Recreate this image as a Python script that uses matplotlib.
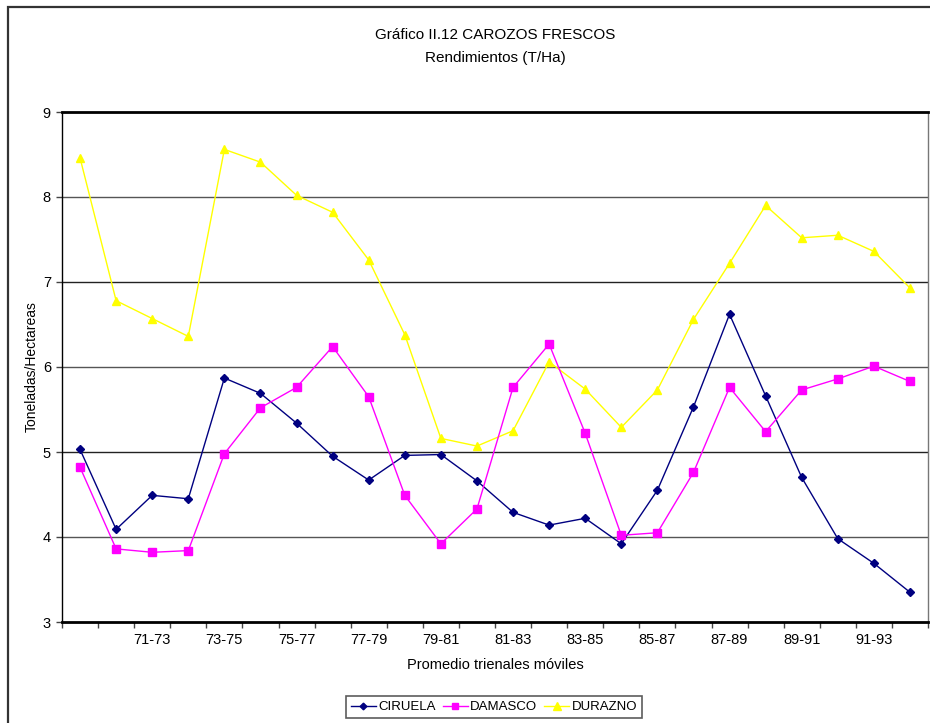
import numpy as np
import matplotlib
matplotlib.use('Agg')
import matplotlib.pyplot as plt
from matplotlib.patches import Rectangle

plt.rcParams['font.family'] = ['Liberation Sans', 'DejaVu Sans']

# categorias: promedios trienales moviles 69-71 ... 92-94
periodos = ['%02d-%02d' % (y, y + 2) for y in range(69, 93)]
ciruela = [5.03, 4.09, 4.49, 4.45, 5.87, 5.69, 5.34, 4.95, 4.67, 4.96, 4.97, 4.66,
           4.29, 4.14, 4.22, 3.92, 4.55, 5.53, 6.62, 5.66, 4.70, 3.98, 3.69, 3.35]
damasco = [4.82, 3.86, 3.82, 3.84, 4.98, 5.52, 5.76, 6.24, 5.65, 4.49, 3.92, 4.33,
           5.76, 6.27, 5.22, 4.02, 4.05, 4.76, 5.76, 5.24, 5.73, 5.86, 6.01, 5.83]
durazno = [8.46, 6.78, 6.57, 6.36, 8.56, 8.41, 8.02, 7.82, 7.26, 6.38, 5.16, 5.07,
           5.25, 6.06, 5.74, 5.29, 5.73, 6.56, 7.22, 7.90, 7.52, 7.55, 7.36, 6.93]
yticks = [3, 4, 5, 6, 7, 8, 9]

fig = plt.figure(figsize=(9.3, 7.23), dpi=100)
ax = fig.add_axes([62/930., 101/723., 866/930., 510/723.])

# marco exterior del grafico
fig.patches.append(Rectangle((8/930., -0.05), 1.1, 1.05 - 7/723., transform=fig.transFigure,
                             fill=False, edgecolor='#333333', linewidth=1.6, zorder=0))

x = np.arange(len(periodos)) + 0.5
for yv in yticks[1:-1]:
    ax.axhline(yv, color='#222222' if yv % 2 else '#555555', linewidth=1.0, zorder=1)

ax.plot(x, ciruela, color='#000080', marker='D', markersize=4, linewidth=1.0,
        label='CIRUELA', zorder=3)
ax.plot(x, damasco, color='#FF00FF', marker='s', markersize=5.5, linewidth=1.0,
        label='DAMASCO', zorder=3)
ax.plot(x, durazno, color='#FFFF00', marker='^', markersize=6, linewidth=1.0,
        label='DURAZNO', zorder=2)

ax.set_xlim(0, len(periodos))
ax.set_ylim(3, 9)
ax.set_yticks(yticks)
ax.set_xticks(np.arange(len(periodos) + 1))
ax.set_xticklabels([])
ax.set_xticks(x[2::2], minor=True)
ax.set_xticklabels(periodos[2::2], minor=True)
ax.tick_params(axis='x', which='minor', length=0, labelsize=10.5, pad=8)
ax.tick_params(axis='x', which='major', direction='out', length=4, width=1, color='#444444')
ax.tick_params(axis='y', direction='out', length=4, width=1, labelsize=10.5, pad=4,
               color='#444444')

ax.spines['top'].set_linewidth(2)
ax.spines['bottom'].set_linewidth(2)
ax.spines['left'].set_linewidth(1)
ax.spines['right'].set_linewidth(1)
ax.spines['right'].set_color('#777777')

ax.set_ylabel('Toneladas/Hectareas', fontsize=10, labelpad=3)
ax.set_xlabel('Promedio trienales móviles', fontsize=10.5, labelpad=8)
fig.text(495/930., 1 - 35/723., 'Gráfico II.12 CAROZOS FRESCOS', ha='center', va='center',
         fontsize=11)
fig.text(495/930., 1 - 58/723., 'Rendimientos (T/Ha)', ha='center', va='center', fontsize=11)

leg = fig.legend(loc='center', bbox_to_anchor=(494/930., 1 - 707/723.), ncol=3,
                 fontsize=9.5, frameon=True, fancybox=False, edgecolor='#333333',
                 handlelength=1.9, handletextpad=0.2, columnspacing=0.5,
                 borderpad=0.35, markerscale=0.85)
leg.get_frame().set_linewidth(1.2)

fig.savefig('out.png', dpi=100)
